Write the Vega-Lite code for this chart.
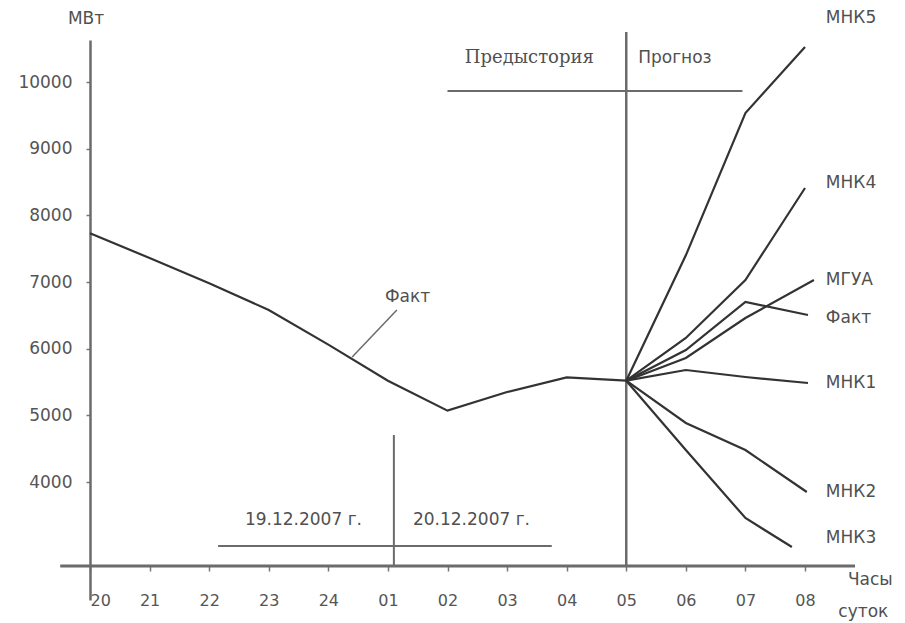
{
  "$schema": "https://vega.github.io/schema/vega-lite/v6.json",
  "width": 770,
  "height": 560,
  "padding": {"left": 90, "top": 40, "right": 45, "bottom": 23},
  "autosize": {"type": "none"},
  "background": "white",
  "config": {"view": {"stroke": null}, "font": "DejaVu Sans"},
  "datasets": {
    "fact": [
      {"h": 0, "v": 7730}, {"h": 1, "v": 7360}, {"h": 2, "v": 6980}, {"h": 3, "v": 6580},
      {"h": 4, "v": 6060}, {"h": 5, "v": 5520}, {"h": 6, "v": 5070}, {"h": 7, "v": 5350},
      {"h": 8, "v": 5570}, {"h": 9, "v": 5520}
    ],
    "fc": [
      {"s": "МНК5", "h": 9, "v": 5520}, {"s": "МНК5", "h": 10, "v": 7400}, {"s": "МНК5", "h": 11, "v": 9535}, {"s": "МНК5", "h": 12, "v": 10525},
      {"s": "МНК4", "h": 9, "v": 5520}, {"s": "МНК4", "h": 10, "v": 6160}, {"s": "МНК4", "h": 11, "v": 7030}, {"s": "МНК4", "h": 12, "v": 8410},
      {"s": "МГУА", "h": 9, "v": 5520}, {"s": "МГУА", "h": 10, "v": 5860}, {"s": "МГУА", "h": 11, "v": 6460}, {"s": "МГУА", "h": 12.15, "v": 7030},
      {"s": "Факт", "h": 9, "v": 5520}, {"s": "Факт", "h": 10, "v": 5980}, {"s": "Факт", "h": 11, "v": 6700}, {"s": "Факт", "h": 12.05, "v": 6505},
      {"s": "МНК1", "h": 9, "v": 5520}, {"s": "МНК1", "h": 10, "v": 5680}, {"s": "МНК1", "h": 11, "v": 5575}, {"s": "МНК1", "h": 12.05, "v": 5485},
      {"s": "МНК2", "h": 9, "v": 5520}, {"s": "МНК2", "h": 10, "v": 4885}, {"s": "МНК2", "h": 11, "v": 4480}, {"s": "МНК2", "h": 12.03, "v": 3850},
      {"s": "МНК3", "h": 9, "v": 5520}, {"s": "МНК3", "h": 10, "v": 4480}, {"s": "МНК3", "h": 11, "v": 3460}, {"s": "МНК3", "h": 11.78, "v": 3025}
    ],
    "slabels": [
      {"label": "МНК5", "h": 12.35, "v": 10960},
      {"label": "МНК4", "h": 12.35, "v": 8485},
      {"label": "МГУА", "h": 12.35, "v": 7030},
      {"label": "Факт", "h": 12.35, "v": 6460},
      {"label": "МНК1", "h": 12.35, "v": 5485},
      {"label": "МНК2", "h": 12.35, "v": 3850},
      {"label": "МНК3", "h": 12.35, "v": 3160},
      {"label": "Часы", "h": 12.72, "v": 2530},
      {"label": "суток", "h": 12.56, "v": 2050},
      {"label": "МВт", "h": -0.37, "v": 10950},
      {"label": "Прогноз", "h": 9.2, "v": 10360},
      {"label": "19.12.2007 г.", "h": 2.6, "v": 3430},
      {"label": "20.12.2007 г.", "h": 5.42, "v": 3430},
      {"label": "Факт", "h": 4.95, "v": 6780}
    ],
    "serif": [
      {"label": "Предыстория", "h": 6.29, "v": 10360}
    ],
    "rules": [
      {"x": -0.5, "x2": 12.84, "y": 2740, "y2": 2740, "w": 3},
      {"x": 9, "x2": 9, "y": 10750, "y2": 2740, "w": 2.5},
      {"x": 6, "x2": 10.95, "y": 9865, "y2": 9865, "w": 2},
      {"x": 5.1, "x2": 5.1, "y": 4705, "y2": 2740, "w": 2},
      {"x": 2.15, "x2": 7.75, "y": 3040, "y2": 3040, "w": 2},
      {"x": 5.15, "x2": 4.4, "y": 6580, "y2": 5875, "w": 1.5}
    ]
  },
  "layer": [
    {
      "data": {"name": "rules"},
      "mark": {"type": "rule", "color": "#6b6b6b"},
      "encoding": {
        "x": {"field": "x", "type": "quantitative", "scale": {"domain": [0, 12.923], "nice": false, "zero": false},
          "axis": {"orient": "bottom", "offset": -34, "domain": false, "grid": false, "values": [0,1,2,3,4,5,6,7,8,9,10,11,12],
            "tickSize": 5, "tickColor": "#777", "tickWidth": 1.5, "labelPadding": 21, "labelFontSize": 16, "labelColor": "#555",
            "labelFont": "DejaVu Sans",
            "labelExpr": "['20','21','22','23','24','01','02','03','04','05','06','07','08'][datum.value]", "title": null}},
        "x2": {"field": "x2"},
        "y": {"field": "y", "type": "quantitative", "scale": {"domain": [2230, 10630], "nice": false, "zero": false},
          "axis": {"orient": "left", "domain": true, "domainColor": "#6b6b6b", "domainWidth": 2.5, "grid": false,
            "values": [4000,5000,6000,7000,8000,9000,10000], "format": "d", "tickSize": 4, "tickColor": "#777", "tickWidth": 1.5,
            "labelPadding": 14, "labelFontSize": 17, "labelColor": "#555", "labelFont": "DejaVu Sans", "title": null}},
        "y2": {"field": "y2"},
        "strokeWidth": {"field": "w", "type": "quantitative", "scale": null}
      }
    },
    {
      "data": {"name": "fact"},
      "mark": {"type": "line", "color": "#333", "strokeWidth": 2.2},
      "encoding": {
        "x": {"field": "h", "type": "quantitative"},
        "y": {"field": "v", "type": "quantitative"}
      }
    },
    {
      "data": {"name": "fc"},
      "mark": {"type": "line", "color": "#333", "strokeWidth": 2.2},
      "encoding": {
        "x": {"field": "h", "type": "quantitative"},
        "y": {"field": "v", "type": "quantitative"},
        "detail": {"field": "s"}
      }
    },
    {
      "data": {"name": "slabels"},
      "mark": {"type": "text", "align": "left", "baseline": "middle", "fontSize": 17, "color": "#505050", "font": "DejaVu Sans"},
      "encoding": {
        "x": {"field": "h", "type": "quantitative"},
        "y": {"field": "v", "type": "quantitative"},
        "text": {"field": "label"}
      }
    },
    {
      "data": {"name": "serif"},
      "mark": {"type": "text", "align": "left", "baseline": "middle", "fontSize": 18, "color": "#505050", "font": "DejaVu Serif"},
      "encoding": {
        "x": {"field": "h", "type": "quantitative"},
        "y": {"field": "v", "type": "quantitative"},
        "text": {"field": "label"}
      }
    }
  ]
}
